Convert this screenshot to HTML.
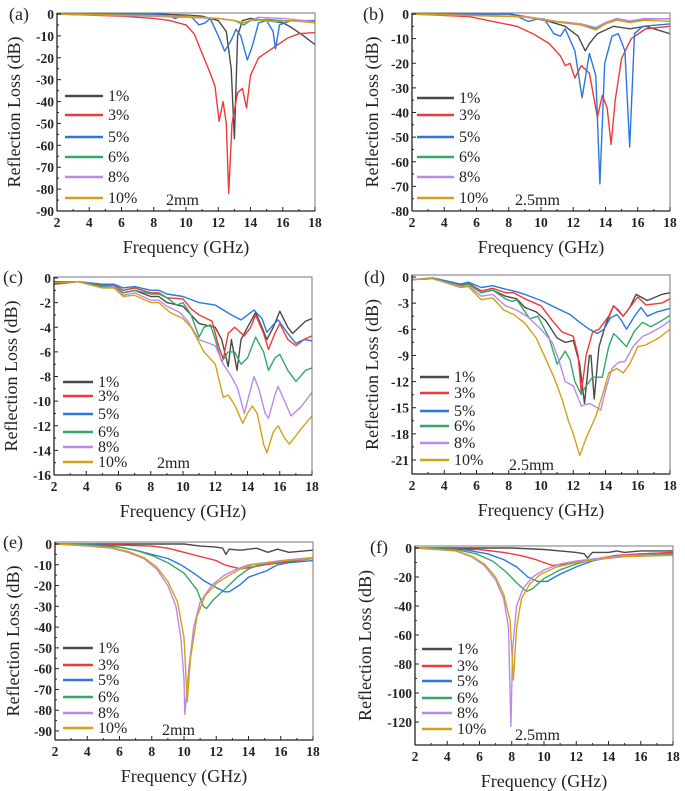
<!DOCTYPE html>
<html><head><meta charset="utf-8">
<style>
html,body{margin:0;padding:0;background:#fff;}
svg{display:block;font-family:"Liberation Serif",serif;}
.tick{font-weight:bold;font-size:13.5px;fill:#222;}
.title{font-size:18px;fill:#222;}
.leg{font-size:16px;fill:#222;}
</style></head>
<body>
<svg id="fig" width="685" height="791" viewBox="0 0 685 791" xmlns="http://www.w3.org/2000/svg"></svg>
<script>
// ---------- data: [frequency GHz, reflection loss dB] ----------
const labels = ["1%","3%","5%","6%","8%","10%"];
const colors = ["#4a4a4a","#ee3a3a","#2a78dd","#33a866","#b98ae8","#d4a017"];

const a1=[[2,0],[8,0],[10,-0.5],[11,-1],[12,-3],[12.5,-8],[12.8,-25],[13,-57],[13.2,-10],[13.5,-3],[14,-2],[15,-3],[16,-4],[16.5,-6],[17.3,-10],[18,-14]];
const a3=[[2,0],[6,-1],[8,-2],[9,-3],[10,-5],[10.5,-9],[11,-18],[11.5,-27],[11.8,-33],[12.05,-49],[12.3,-40],[12.5,-50],[12.65,-82],[12.85,-50],[13.2,-36],[13.5,-34],[13.75,-43],[14,-28],[14.5,-20],[15.5,-15],[16.3,-11],[17,-9],[18,-8.5]];
const a5=[[2,0],[8,0],[9,-1],[9.3,-2],[9.8,-1],[10.3,-1],[10.8,-5],[11.2,-4],[11.5,-2],[12,-10],[12.4,-17],[12.8,-12],[13.1,-7],[13.4,-10],[13.8,-21],[14.1,-15],[14.5,-4],[15,-3],[15.4,-8],[15.55,-16],[15.8,-5],[16.5,-3],[18,-3]];
const a6=[[2,0],[8,-1],[12,-2],[13,-3],[13.6,-5],[14,-3],[15,-2.5],[16,-3],[18,-3.5]];
const a8=[[2,0],[8,-1],[12,-2],[13,-3],[13.6,-4],[14.5,-1.5],[16,-2],[18,-3.5]];
const a10=[[2,0],[10,-1],[12,-2],[13,-3],[13.5,-4],[14.3,-2.5],[15.5,-3.5],[16.5,-3],[18,-4]];

const b1=[[2,0],[8,0],[9,-1],[10.5,-3],[11.5,-5],[12.3,-9],[12.75,-15],[13,-12],[13.5,-8],[14.5,-5],[15.5,-6],[16.5,-5],[18,-8]];
const b3=[[2,0],[5.5,-1],[7,-3],[8.5,-5],[9.5,-8],[10.5,-12],[11.2,-17],[11.5,-21],[11.8,-20],[12.1,-26],[12.5,-21],[13,-24],[13.5,-42],[13.8,-33],[14.1,-38],[14.35,-53],[14.6,-35],[15,-18],[15.6,-10],[16.5,-6],[18,-5]];
const b5=[[2,0],[8.2,0],[9.2,-3],[9.8,-2],[10.2,-2],[10.8,-8],[11.2,-9],[11.5,-6],[12.1,-15],[12.55,-34],[13,-16],[13.4,-25],[13.65,-69],[13.95,-20],[14.4,-9],[14.8,-8],[15.2,-15],[15.5,-54],[15.8,-8],[16.3,-5],[18,-4]];
const b6=[[2,0],[9,-1],[11,-3],[12.5,-4],[13.4,-6],[14,-3.5],[14.7,-2],[15.5,-3],[16.5,-2],[18,-2]];
const b8=[[2,0],[9,-1],[11,-3],[12.5,-4],[13.4,-5.5],[14,-3.5],[14.7,-1.8],[15.5,-2.8],[16.5,-1.8],[18,-2]];
const b10=[[2,0],[9,-1.2],[11,-3.3],[12.5,-4.5],[13.4,-6.5],[14,-4],[14.7,-2.5],[15.5,-3.5],[16.5,-2.5],[18,-3]];

const c1=[[2,-0.5],[3.5,-0.3],[5,-0.7],[5.7,-0.6],[6.3,-1.2],[7,-1],[8,-1.5],[8.5,-1.5],[9,-2],[10,-2.3],[10.5,-3],[11,-3.7],[12,-4],[12.4,-5],[12.8,-7.2],[13,-5],[13.35,-7.5],[13.6,-5],[14,-4],[14.5,-2.8],[14.9,-4],[15.2,-5],[15.6,-4],[16,-2.7],[16.5,-4],[16.8,-4.5],[17.6,-3.5],[18,-3.3]];
const c3=[[2,-0.4],[3.5,-0.3],[5,-0.6],[5.7,-0.5],[6.3,-1],[7,-0.8],[8,-1.2],[8.5,-1.2],[9,-1.6],[10,-1.7],[10.5,-2.5],[11,-3],[11.8,-3.5],[12.2,-5.5],[12.5,-6.6],[12.8,-4.5],[13.2,-4],[13.8,-4.7],[14.2,-4],[14.5,-3],[15,-4.5],[15.3,-5.8],[15.7,-4.5],[16,-3.7],[16.5,-5],[17,-5.5],[17.5,-5],[18,-4.7]];
const c5=[[2,-0.3],[3.5,-0.3],[5,-0.5],[5.7,-0.5],[6.3,-0.8],[7,-0.7],[8,-1],[8.5,-1],[9,-1.3],[10,-1.5],[11,-2],[12,-2.2],[13,-3],[13.6,-3.4],[14,-3],[14.4,-2.6],[14.9,-3.3],[15.2,-4.4],[15.6,-3.8],[15.9,-3.4],[16.5,-4.5],[17,-5.3],[17.5,-5],[18,-5.1]];
const c6=[[2,-0.4],[3.5,-0.3],[5,-0.7],[5.7,-0.6],[6.3,-1.2],[7,-1],[8,-1.3],[8.5,-1.3],[9,-1.6],[9.6,-2.2],[10,-2],[10.5,-3],[11,-4.8],[11.3,-4],[11.7,-3.8],[12,-5],[12.4,-6.8],[12.8,-6],[13.2,-6],[13.6,-7],[14,-6.5],[14.5,-4.8],[15,-6],[15.3,-7.5],[15.7,-6.5],[16,-6.2],[16.5,-7.5],[17,-8.4],[17.6,-7.5],[18,-7.3]];
const c8=[[2,-0.4],[3.5,-0.3],[5,-0.8],[5.7,-0.7],[6.3,-1.4],[7,-1.2],[8,-1.8],[8.5,-1.8],[9,-2.3],[9.8,-2.8],[10.3,-3.5],[11,-5],[12,-5.5],[12.5,-7],[13,-8],[13.4,-9],[13.8,-11],[14.2,-9],[14.4,-8],[14.7,-9],[15.1,-11],[15.3,-11.4],[15.7,-9.5],[15.9,-8.8],[16.3,-10],[16.7,-11.2],[17.3,-10.5],[18,-9.3]];
const c10=[[2,-0.4],[3.5,-0.3],[5,-0.8],[5.7,-0.8],[6.3,-1.5],[7,-1.4],[8,-2],[8.5,-2],[9.2,-2.8],[10,-3.3],[10.5,-4],[11.3,-6],[12,-7],[12.5,-9.7],[12.8,-9.5],[13.2,-10.3],[13.7,-11.8],[14,-11],[14.3,-10.4],[14.6,-11],[15,-13.5],[15.2,-14.2],[15.6,-12.5],[15.9,-12],[16.3,-13],[16.6,-13.5],[17.3,-12.3],[18,-11.2]];

const d1=[[2,-0.3],[3.3,-0.2],[5,-1],[5.5,-0.8],[6.3,-1.8],[7,-1.5],[7.8,-2.2],[8.5,-2.5],[9,-3.5],[9.7,-4],[10.3,-5],[11,-7],[11.5,-7.5],[12,-7.3],[12.4,-10],[12.7,-14.5],[13,-9],[13.1,-9],[13.3,-14],[13.6,-8],[14,-5.5],[14.5,-3.3],[15.1,-4.5],[15.5,-3.5],[15.9,-2],[16.6,-2.7],[17.5,-2],[18,-1.8]];
const d3=[[2,-0.3],[3.3,-0.2],[5,-0.9],[5.5,-0.7],[6.3,-1.6],[7,-1.3],[7.8,-1.8],[8.3,-1.8],[9,-2.5],[10,-3.3],[10.7,-5],[11.3,-6.3],[12,-6.8],[12.3,-9],[12.5,-13.3],[12.8,-9],[13.2,-6.3],[13.6,-6],[14.2,-4.5],[14.5,-3.3],[14.8,-3.8],[15.1,-4.5],[15.5,-3.5],[16,-2.3],[16.5,-3.2],[17.5,-3],[18,-2.5]];
const d5=[[2,-0.3],[3.3,-0.1],[5,-0.8],[5.5,-0.6],[6.3,-1.2],[7,-1],[7.8,-1.4],[8.5,-1.7],[9,-2],[10,-2.7],[11,-3.6],[11.8,-4.3],[12.4,-5.2],[13,-6],[13.5,-6.5],[13.9,-6],[14.3,-4.7],[14.7,-4.3],[15,-5],[15.3,-6],[15.8,-4.5],[16.2,-3.5],[16.6,-4.5],[17.2,-4],[18,-3.6]];
const d6=[[2,-0.3],[3.3,-0.2],[5,-1],[5.5,-0.8],[6.3,-1.8],[7,-1.5],[7.8,-2.5],[8.2,-2.8],[8.5,-2.6],[9.3,-4.8],[9.8,-4.5],[10.5,-7],[11,-10],[11.5,-8.5],[11.8,-9.5],[12.1,-12],[12.5,-13.5],[12.8,-12.5],[13.2,-11.5],[13.8,-11.5],[14.2,-8],[14.5,-6.5],[14.8,-7],[15.3,-8],[15.8,-6.2],[16.3,-5.2],[16.8,-5.7],[17.5,-5],[18,-4.4]];
const d8=[[2,-0.3],[3.3,-0.2],[5,-1.1],[5.5,-1],[6.3,-2.2],[7,-2],[7.8,-3.3],[8.5,-3.8],[9.2,-4.6],[10,-6],[10.7,-7.5],[11.1,-9.5],[11.5,-12],[12,-12.5],[12.5,-14.8],[13,-14.5],[13.5,-15],[13.7,-15.3],[14,-13],[14.4,-10.5],[14.8,-9.8],[15.2,-9.7],[15.7,-8],[16.3,-6.8],[16.7,-6.5],[17.4,-5.8],[18,-5]];
const d10=[[2,-0.3],[3.3,-0.2],[5,-1.2],[5.5,-1.1],[6.3,-2.6],[7,-2.4],[7.7,-3.8],[8.3,-4.3],[9,-5.3],[9.7,-7],[10.2,-9],[10.8,-11.5],[11.3,-14],[11.7,-16.5],[12,-18],[12.4,-20.5],[12.8,-18.5],[13.4,-16],[13.9,-13],[14.2,-11],[14.7,-10.5],[15.1,-11],[15.5,-10],[16,-8],[16.5,-7.8],[17.3,-7],[18,-6]];

const e1=[[2,0],[10,0],[11,-1],[12,-1.5],[12.4,-2],[12.6,-5],[12.8,-2.5],[13.5,-3],[14.5,-2],[15.2,-4],[15.8,-2.5],[16.5,-4],[18,-3]];
const e3=[[2,0],[6,-0.5],[8,-1],[9,-2],[10,-4],[11,-6],[12,-8],[12.5,-10],[13.5,-12],[14.3,-11],[15,-10],[16,-9],[18,-7]];
const e5=[[2,0],[5,-0.5],[6,-1.5],[7,-3],[8,-5],[9,-7],[9.8,-10],[10.6,-14],[11.3,-18],[12,-21],[12.5,-23],[12.8,-23],[13.5,-19.5],[14,-16],[14.7,-14],[15.1,-13],[15.8,-10],[16.5,-9],[18,-8]];
const e6=[[2,0],[4,-0.5],[6,-1.5],[7,-3],[8,-5.5],[9,-9],[10,-14],[10.8,-22],[11.2,-30],[11.4,-31],[11.8,-27],[12.5,-22],[13.3,-16],[14,-12],[14.7,-10],[15.5,-9],[16.5,-8],[18,-7]];
const e8=[[2,0],[4,-1],[5.5,-2],[6.5,-4],[7.5,-7],[8.3,-12],[9,-20],[9.5,-30],[9.8,-45],[10,-65],[10.05,-82],[10.3,-60],[10.6,-40],[11,-28],[11.7,-20],[12.5,-15],[13.3,-12],[14,-10],[15,-9],[16,-8],[18,-6.5]];
const e10=[[2,0],[4,-0.8],[5.5,-1.8],[6.5,-3.5],[7.5,-6.5],[8.3,-11],[9,-18],[9.6,-28],[10,-45],[10.2,-76],[10.4,-55],[10.8,-35],[11.3,-25],[12,-19],[12.8,-15],[13.5,-12],[14.3,-10],[15.3,-9],[16.3,-8],[18,-7]];

const f1=[[2,0],[8,0],[10,-1],[11,-2],[12,-3],[12.5,-4],[12.7,-7],[13,-3],[14,-3],[14.5,-2],[15,-3],[16,-2],[18,-2]];
const f3=[[2,0],[6,-1],[7.5,-3],[8.5,-5],[9.5,-8],[10.5,-12],[11.5,-11],[12.5,-9],[13.5,-7],[14.5,-5],[16,-4],[18,-3]];
const f5=[[2,0],[5,-1],[6.5,-4],[7.5,-8],[8.3,-13],[9,-20],[9.6,-23],[10.2,-23],[11,-18],[12,-13],[13,-9],[14.3,-6],[16,-5],[18,-4]];
const f6=[[2,0],[4.5,-1],[5.8,-4],[6.8,-9],[7.6,-16],[8.4,-25],[8.9,-30],[9.3,-28],[10,-21],[11,-15],[12,-11],[13,-8],[14.5,-6],[16,-5],[18,-4]];
const f8=[[2,0],[4.5,-2],[5.5,-6],[6.3,-12],[7,-22],[7.5,-35],[7.8,-55],[7.95,-123],[8.05,-70],[8.3,-40],[8.7,-28],[9.3,-20],[10,-15],[11,-11],[12,-9],[13.5,-7],[15,-5],[18,-5]];
const f10=[[2,0],[4.5,-1.8],[5.5,-5.5],[6.3,-11],[7,-20],[7.5,-32],[7.9,-50],[8.1,-91],[8.3,-55],[8.6,-35],[9.1,-25],[9.8,-18],[10.8,-13],[12,-10],[13.3,-8],[15,-6],[18,-5]];

const xTicks=[2,4,6,8,10,12,14,16,18];
const yTicksA=[0,-10,-20,-30,-40,-50,-60,-70,-80,-90];
const yTicksB=[0,-10,-20,-30,-40,-50,-60,-70,-80];
const yTicksC=[0,-2,-4,-6,-8,-10,-12,-14,-16];
const yTicksD=[0,-3,-6,-9,-12,-15,-18,-21];
const yTicksE=[0,-10,-20,-30,-40,-50,-60,-70,-80,-90];
const yTicksF=[0,-20,-40,-60,-80,-100,-120];

const panels=[
 {id:"a",series:[a1,a3,a5,a6,a8,a10],yTicks:yTicksA,L:57,R:315,T:13,B:211,z:14,refV:-90,refP:211,yT:13,plx:9,ply:20,legX:65,legTx:108,legY:[96,115,137,157,177,198],note:"2mm",nx:166,ny:205,lf:18},
 {id:"b",series:[b1,b3,b5,b6,b8,b10],yTicks:yTicksB,L:412,R:670,T:13,B:211,z:14,refV:-80,refP:211,yT:371,plx:363,ply:20,legX:417,legTx:459,legY:[98,115,137,157,177,198],note:"2.5mm",nx:515,ny:205,lf:18},
 {id:"c",series:[c1,c3,c5,c6,c8,c10],yTicks:yTicksC,L:54,R:312,T:277,B:475,z:278,refV:-16,refP:475,yT:10,plx:3,ply:283,legX:63,legTx:98,legY:[382,396,414,432,447,462],note:"2mm",nx:157,ny:468,lf:16},
 {id:"d",series:[d1,d3,d5,d6,d8,d10],yTicks:yTicksD,L:412,R:670,T:275,B:474,z:277,refV:-21,refP:460,yT:371,plx:364,ply:283,legX:420,legTx:454,legY:[377,393,411,426,443,460],note:"2.5mm",nx:509,ny:470,lf:16},
 {id:"e",series:[e1,e3,e5,e6,e8,e10],yTicks:yTicksE,L:55,R:313,T:542,B:740,z:544,refV:-90,refP:731,yT:12,plx:3,ply:548,legX:63,legTx:98,legY:[648,665,680,697,713,728],note:"2mm",nx:162,ny:735,lf:16},
 {id:"f",series:[f1,f3,f5,f6,f8,f10],yTicks:yTicksF,L:415,R:673,T:546,B:745,z:548,refV:-120,refP:722,yT:364,plx:370,ply:553,legX:422,legTx:457,legY:[649,666,681,698,713,729],note:"2.5mm",nx:515,ny:740,lf:16}
];

const NS="http://www.w3.org/2000/svg";
const svg=document.getElementById("fig");
function mk(tag,attrs,parent){const e=document.createElementNS(NS,tag);for(const k in attrs)e.setAttribute(k,attrs[k]);(parent||svg).appendChild(e);return e;}

panels.forEach(p=>{
  const g=mk("g",{});
  
  
  const xs=f=>p.L+(f-2)*(p.R-p.L)/16;
  const ys=v=>p.z+v*(p.refP-p.z)/p.refV;
  const cp=mk("clipPath",{id:"clip"+p.id},g);
  mk("rect",{x:p.L,y:p.T,width:p.R-p.L,height:p.B-p.T},cp);
  p.series.forEach((s,i)=>{
    const d=s.map((pt,j)=>(j?"L":"M")+xs(pt[0]).toFixed(1)+","+ys(pt[1]).toFixed(1)).join("");
    const path=mk("path",{d:d,fill:"none",stroke:colors[i],"stroke-width":1.4,"stroke-linejoin":"round","clip-path":"url(#clip"+p.id+")"},g);
    
    
  });
  const fr=mk("rect",{x:p.L,y:p.T,width:p.R-p.L,height:p.B-p.T,fill:"none",stroke:"#777","stroke-width":1},g);
  
  
  mk("line",{x1:p.L,y1:p.T,x2:p.L,y2:p.B,stroke:"#222","stroke-width":1.3},g);
  mk("line",{x1:p.L,y1:p.B,x2:p.R,y2:p.B,stroke:"#222","stroke-width":1.3},g);
  xTicks.forEach((t,k)=>{
    const x=xs(t);
    mk("line",{x1:x,y1:p.B,x2:x,y2:p.B-4,stroke:"#222"},g);
    if(k<xTicks.length-1){const xm=xs(t+1);mk("line",{x1:xm,y1:p.B,x2:xm,y2:p.B-2,stroke:"#222"},g);}
    const tx=mk("text",{x:x,y:p.B+16,"text-anchor":"middle",class:"tick"},g);
    tx.textContent=t;
    
    
  });
  p.yTicks.forEach((t,k)=>{
    const y=ys(t);
    mk("line",{x1:p.L,y1:y,x2:p.L+4,y2:y,stroke:"#222"},g);
    if(k<p.yTicks.length-1){const ym=(y+ys(p.yTicks[k+1]))/2;mk("line",{x1:p.L,y1:ym,x2:p.L+2,y2:ym,stroke:"#222"},g);}
    const tx=mk("text",{x:p.L-3,y:y+5,"text-anchor":"end",class:"tick"},g);
    tx.textContent=t;
    
    
  });
  const xt=mk("text",{x:(p.L+p.R)/2,y:p.B+42,"text-anchor":"middle",class:"title"},g);
  xt.textContent="Frequency (GHz)";
  
  
  const cy=(p.T+p.B)/2;
  const yt=mk("text",{x:p.yT,y:cy,"text-anchor":"middle",class:"title",transform:"rotate(-90 "+p.yT+" "+cy+") translate(0 7)"},g);
  yt.textContent="Reflection Loss (dB)";
  
  
  const pl=mk("text",{x:p.plx,y:p.ply,class:"title"},g);
  pl.textContent="("+p.id+")";
  
  
  p.legY.forEach((y,i)=>{
    const ln=mk("line",{x1:p.legX,y1:y,x2:p.legTx-5,y2:y,stroke:colors[i],"stroke-width":2.5},g);
    
    
    const lt=mk("text",{x:p.legTx,y:y+5,class:"leg","font-size":p.lf},g);
    lt.textContent=labels[i];
    
    
  });
  const nt=mk("text",{x:p.nx,y:p.ny,class:"leg","font-size":p.lf+2},g);
  nt.textContent=p.note;
  
  
});
</script>
</body></html>
